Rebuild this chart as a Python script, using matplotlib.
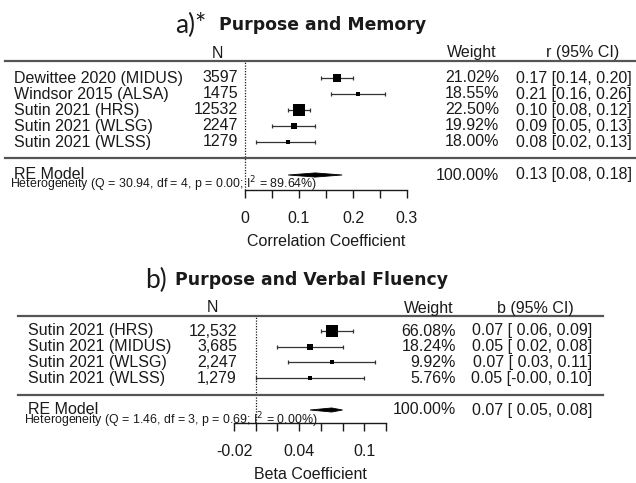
import numpy as np
import matplotlib
matplotlib.use("Agg")
import matplotlib.pyplot as plt
from matplotlib.transforms import blended_transform_factory
from matplotlib.lines import Line2D

# ---- panel a: purpose and memory (correlations) ----
studies_a = ["Dewittee 2020 (MIDUS)", "Windsor 2015 (ALSA)", "Sutin 2021 (HRS)",
             "Sutin 2021 (WLSG)", "Sutin 2021 (WLSS)"]
n_a = ["3597", "1475", "12532", "2247", "1279"]
weight_a = [21.02, 18.55, 22.50, 19.92, 18.00]
est_a = [0.17, 0.21, 0.10, 0.09, 0.08]
lo_a = [0.14, 0.16, 0.08, 0.05, 0.02]
hi_a = [0.20, 0.26, 0.12, 0.13, 0.13]
re_a = [0.13, 0.08, 0.18]
het_a = "Heterogeneity (Q = 30.94, df = 4, p = 0.00; I$^2$ = 89.64%)"
ticks_a = [0, 0.05, 0.1, 0.15, 0.2, 0.25, 0.3]
ticklabels_a = ["0", "", "0.1", "", "0.2", "", "0.3"]

# ---- panel b: purpose and verbal fluency (betas) ----
studies_b = ["Sutin 2021 (HRS)", "Sutin 2021 (MIDUS)", "Sutin 2021 (WLSG)",
             "Sutin 2021 (WLSS)"]
n_b = ["12,532", "3,685", "2,247", "1,279"]
weight_b = [66.08, 18.24, 9.92, 5.76]
est_b = [0.07, 0.05, 0.07, 0.05]
lo_b = [0.06, 0.02, 0.03, -0.00]
hi_b = [0.09, 0.08, 0.11, 0.10]
re_b = [0.07, 0.05, 0.08]
het_b = "Heterogeneity (Q = 1.46, df = 3, p = 0.69; I$^2$ = 0.00%)"
ticks_b = [-0.02, 0, 0.02, 0.04, 0.06, 0.08, 0.1, 0.12]
ticklabels_b = ["-0.02", "", "", "0.04", "", "", "0.1", ""]

W, H = 636, 483
TXT = "#1a1a1a"
LINE = "#555555"
BODY = "Liberation Sans"

fig = plt.figure(figsize=(W / 100, H / 100), dpi=100)


def fx(px):
    return px / W


def panel(lay, studies, ns, weights, est, lo, hi, re, het, ticks, ticklabels,
          xlab, tag, title, ci_head, pad_ci):
    x0, x1 = lay["ax_x"]
    ytop, ybot = lay["ax_y"]
    ax = fig.add_axes([fx(x0), 1 - ybot / H, (x1 - x0) / W, (ybot - ytop) / H])
    sp = lay["row_sp"]
    ax.set_xlim(ticks[0], ticks[-1])
    ax.set_ylim((ybot - lay["row0"]) / sp, (ytop - lay["row0"]) / sp)
    for s in ["top", "left", "right"]:
        ax.spines[s].set_visible(False)
    ax.spines["bottom"].set_color(TXT)
    ax.spines["bottom"].set_linewidth(1.0)
    ax.set_yticks([])
    ax.set_xticks(ticks)
    ax.set_xticklabels(ticklabels, fontfamily=BODY, fontsize=11.5, color=TXT)
    ax.tick_params(axis="x", direction="out", length=6, width=1.0,
                   color=TXT, pad=9)
    ax.set_xlabel(xlab, fontfamily=BODY, fontsize=11.5, color=TXT, labelpad=6)
    ax.patch.set_alpha(0)

    rows = np.arange(len(studies))
    est = np.array(est)
    lo = np.array(lo)
    hi = np.array(hi)

    # square size from precision, like metafor's psize
    wi = 1 / ((hi - lo) / 3.92)
    psize = 0.5 + (wi - wi.min()) / (wi.max() - wi.min())
    ax.errorbar(est, rows, xerr=[est - lo, hi - est], fmt="none",
                ecolor="#333333", elinewidth=0.9, capsize=1.6, capthick=0.9)
    for r, e, p in zip(rows, est, psize):
        ax.plot(e, r, marker="s", ms=8 * p * 0.72, color="black", mec="black",
                mew=0)

    # summary diamond
    y_re = lay["re_row"]
    dh = 0.13
    ax.fill([re[1], re[0], re[2], re[0]], [y_re, y_re - dh, y_re, y_re + dh],
            color="black", lw=0.6, ec="black", clip_on=False)

    # reference line at zero
    ax.axvline(0, color=TXT, ls=(0, (1, 1.2)), lw=0.9, clip_on=False)

    # horizontal rules
    yl0 = 1 - ytop / H
    yl1 = 1 - lay["rule2"] / H
    for yy in (yl0, yl1):
        fig.add_artist(Line2D([fx(lay["rule_x"][0]), fx(lay["rule_x"][1])],
                              [yy, yy], color=LINE, lw=1.6))

    tr = blended_transform_factory(fig.transFigure, ax.transData)
    kw = dict(fontfamily=BODY, fontsize=11.5, color=TXT, transform=tr,
              va="center")
    for r, s, n, w, e, l, h in zip(rows, studies, ns, weights, est, lo, hi):
        ax.text(fx(lay["lab_x"]), r, s, ha="left", **kw)
        ax.text(fx(lay["n_x"]), r, n, ha="right", **kw)
        ax.text(fx(lay["w_x"]), r, f"{w:.2f}%", ha="right", **kw)
        if pad_ci:
            ci = f"{e:.2f} [{l:5.2f}, {h:.2f}]"
        else:
            ci = f"{e:.2f} [{l:.2f}, {h:.2f}]"
        ax.text(fx(lay["ci_x"]), r, ci, ha="right", **kw)
    ax.text(fx(lay["lab_x"]), y_re - 0.05, "RE Model", ha="left", **kw)
    ax.text(fx(lay["w_x"]), y_re, "100.00%", ha="right", **kw)
    if pad_ci:
        ci = f"{re[0]:.2f} [{re[1]:5.2f}, {re[2]:.2f}]"
    else:
        ci = f"{re[0]:.2f} [{re[1]:.2f}, {re[2]:.2f}]"
    ax.text(fx(lay["ci_x"]), y_re, ci, ha="right", **kw)
    ax.text(fx(lay["lab_x"] - 4), lay["het_row"], het, ha="left",
            fontfamily=BODY, fontsize=8.9, color=TXT, transform=tr,
            va="center")

    # column headers
    fig.text(fx(lay["nh_x"]), 1 - lay["head_y"] / H, "N", ha="center",
             va="center", fontfamily=BODY, fontsize=11.5, color=TXT)
    fig.text(fx(lay["wh_x"]), 1 - lay["head_y"] / H, "Weight", ha="center",
             va="center", fontfamily=BODY, fontsize=11.5, color=TXT)
    fig.text(fx(lay["ch_x"]), 1 - lay["head_y"] / H, ci_head, ha="center",
             va="center", fontfamily=BODY, fontsize=11.5, color=TXT)

    # title
    fig.text(fx(lay["tag_x"]), 1 - lay["title_y"] / H, tag, ha="left",
             va="center", fontfamily="Lato", fontsize=19, color=TXT)
    fig.text(fx(lay["title_x"]), 1 - lay["title_y"] / H, title, ha="left",
             va="center", fontfamily="DejaVu Sans", fontweight="bold",
             fontsize=12.4, color=TXT)
    return ax


lay_a = dict(ax_x=(245, 407), ax_y=(61, 190), row0=78, row_sp=16,
             re_row=(175 - 78) / 16, het_row=(184 - 78) / 16, rule2=158,
             rule_x=(5, 636), lab_x=14, n_x=238, w_x=499, ci_x=632,
             nh_x=217, wh_x=472, ch_x=583, head_y=53,
             tag_x=175, title_x=219, title_y=25)
lay_b = dict(ax_x=(234, 386), ax_y=(316, 423), row0=331, row_sp=15.7,
             re_row=(410 - 331) / 15.7, het_row=(420 - 331) / 15.7, rule2=395,
             rule_x=(18, 603), lab_x=28, n_x=237, w_x=456, ci_x=592,
             nh_x=212, wh_x=429, ch_x=535, head_y=308,
             tag_x=145, title_x=175, title_y=280)

panel(lay_a, studies_a, n_a, weight_a, est_a, lo_a, hi_a, re_a, het_a,
      ticks_a, ticklabels_a, "Correlation Coefficient", "a)*",
      "Purpose and Memory", "r (95% CI)", False)
panel(lay_b, studies_b, n_b, weight_b, est_b, lo_b, hi_b, re_b, het_b,
      ticks_b, ticklabels_b, "Beta Coefficient", "b)",
      "Purpose and Verbal Fluency", "b (95% CI)", True)

fig.savefig("out.png", dpi=100, facecolor="white")
